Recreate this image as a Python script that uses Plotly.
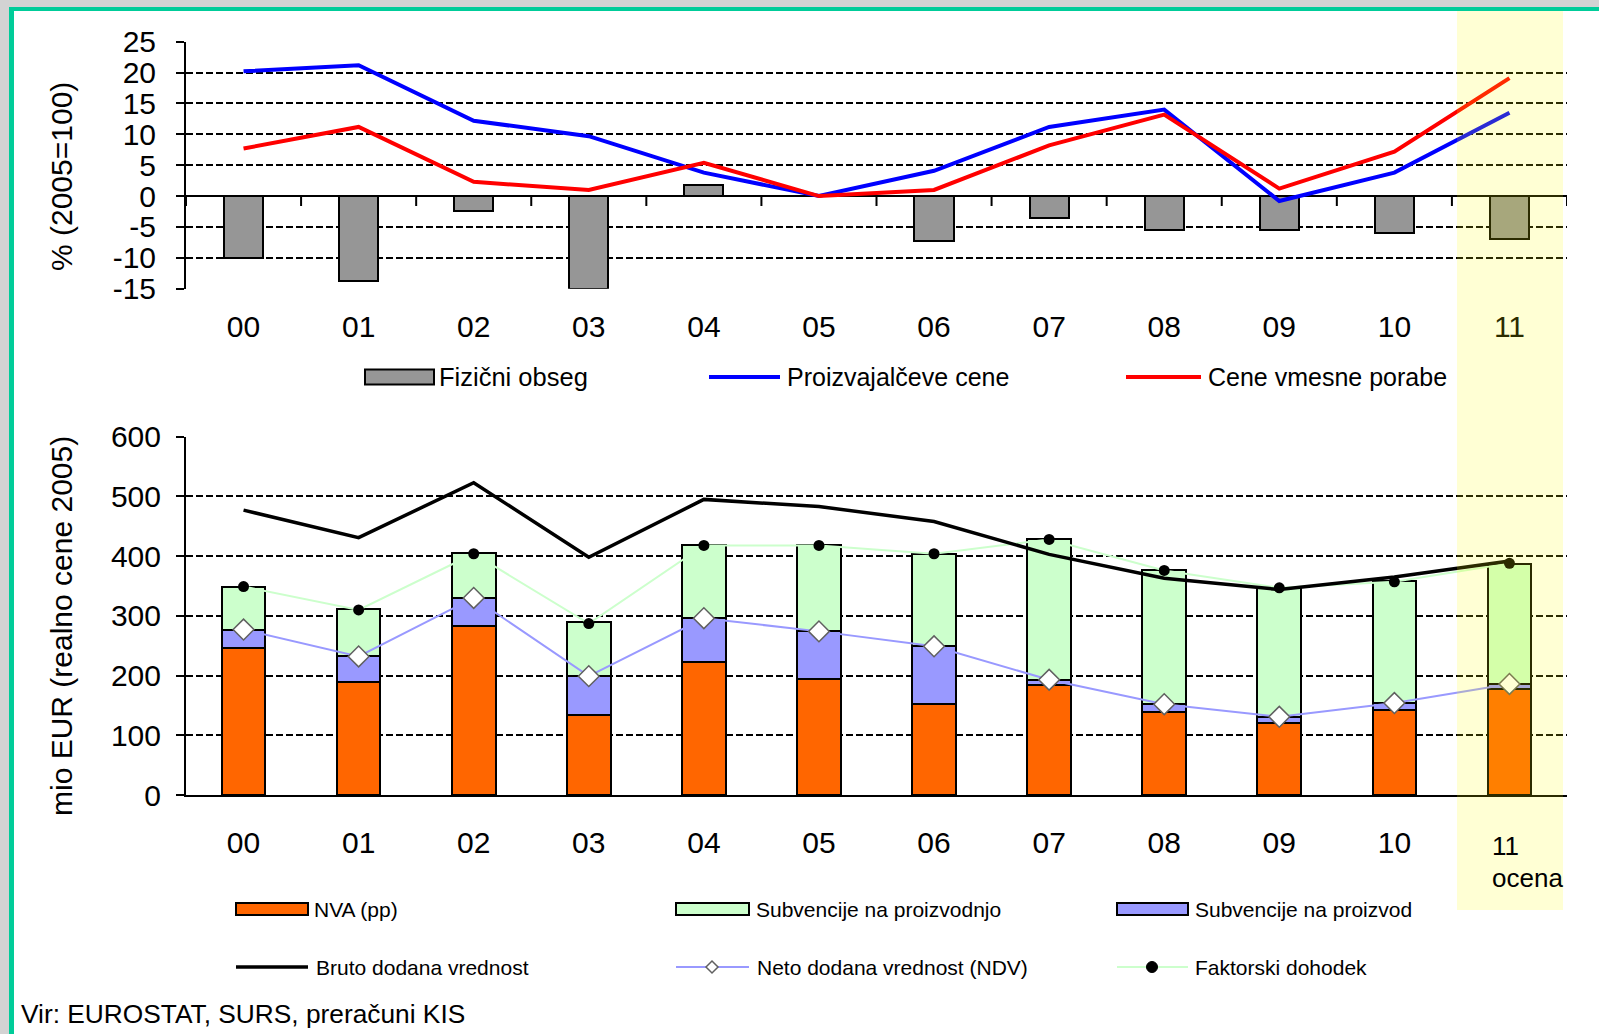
import plotly.graph_objects as go

W, H = 1599, 1034

# ---------------- data ----------------
years = ["00", "01", "02", "03", "04", "05", "06", "07", "08", "09", "10", "11"]

# top chart (% , 2005=100)
fizicni_obseg = [-10.0, -13.7, -2.4, -15.0, 1.8, 0.0, -7.3, -3.6, -5.5, -5.5, -6.0, -6.9]
proizvajalceve_cene = [20.2, 21.2, 12.2, 9.7, 3.8, 0.0, 4.1, 11.2, 14.0, -0.8, 3.8, 13.5]
cene_vmesne_porabe = [7.7, 11.2, 2.3, 1.0, 5.4, 0.0, 1.0, 8.2, 13.2, 1.2, 7.2, 19.1]

# bottom chart (mio EUR, realne cene 2005)
nva = [246, 190, 283, 134, 223, 194, 152, 184, 139, 121, 143, 177]
subv_proizvod = [31, 42, 47, 65, 73, 80, 97, 9, 13, 10, 11, 9]
subv_proizvodnjo = [71, 79, 75, 90, 123, 145, 155, 235, 225, 215, 204, 201]
bdv = [477, 431, 523, 398, 495, 483, 458, 403, 363, 344, 365, 392]
ndv = [277, 232, 330, 199, 296, 274, 249, 193, 152, 131, 154, 186]
faktorski = [349, 310, 404, 287, 418, 418, 404, 428, 376, 347, 357, 388]

top_ticks = [-15, -10, -5, 0, 5, 10, 15, 20, 25]
top_ticktext = ["-15", "-10", "-5", "0", "5", "10", "15", "20", "25"]
bottom_ticks = [0, 100, 200, 300, 400, 500, 600]
bottom_ticktext = ["00", "01", "02", "03", "04", "05", "06", "07", "08", "09", "10", ""]

# ---------------- styling ----------------
FONT = "Liberation Sans, Arial, sans-serif"
GRAY = "#969696"
ORANGE = "#FF6600"
LGREEN = "#CCFFCC"
LPURPLE = "#9999FF"


def px(x):
    return x / W


def py(y):
    return 1 - y / H


fig = go.Figure()

# top chart
fig.add_trace(go.Bar(x=years, y=fizicni_obseg, name="Fizični obseg", width=0.34,
                     marker=dict(color=GRAY, line=dict(color="black", width=2)),
                     xaxis="x", yaxis="y", showlegend=False))
fig.add_trace(go.Scatter(x=years, y=proizvajalceve_cene, name="Proizvajalčeve cene", mode="lines",
                         line=dict(color="#0000FF", width=4), xaxis="x", yaxis="y", showlegend=False))
fig.add_trace(go.Scatter(x=years, y=cene_vmesne_porabe, name="Cene vmesne porabe", mode="lines",
                         line=dict(color="#FF0000", width=4), xaxis="x", yaxis="y", showlegend=False))

# bottom chart
fig.add_trace(go.Bar(x=years, y=nva, name="NVA (pp)", width=0.38,
                     marker=dict(color=ORANGE, line=dict(color="black", width=2)),
                     xaxis="x2", yaxis="y2", showlegend=False))
fig.add_trace(go.Bar(x=years, y=subv_proizvod, name="Subvencije na proizvod", width=0.38,
                     marker=dict(color=LPURPLE, line=dict(color="black", width=2)),
                     xaxis="x2", yaxis="y2", showlegend=False))
fig.add_trace(go.Bar(x=years, y=subv_proizvodnjo, name="Subvencije na proizvodnjo", width=0.38,
                     marker=dict(color=LGREEN, line=dict(color="black", width=2)),
                     xaxis="x2", yaxis="y2", showlegend=False))
fig.add_trace(go.Scatter(x=years, y=faktorski, name="Faktorski dohodek", mode="lines+markers",
                         line=dict(color=LGREEN, width=2),
                         marker=dict(color="black", size=11, symbol="circle"),
                         xaxis="x2", yaxis="y2", showlegend=False))
fig.add_trace(go.Scatter(x=years, y=bdv, name="Bruto dodana vrednost", mode="lines",
                         line=dict(color="black", width=3.5), xaxis="x2", yaxis="y2", showlegend=False))
fig.add_trace(go.Scatter(x=years, y=ndv, name="Neto dodana vrednost (NDV)", mode="lines+markers",
                         line=dict(color=LPURPLE, width=2),
                         marker=dict(color="white", size=16, symbol="diamond",
                                     line=dict(color="#606060", width=1.5)),
                         xaxis="x2", yaxis="y2", showlegend=False))

XDOM = [px(186), px(1567)]
axis_common = dict(tickfont=dict(family=FONT, size=30, color="black"), automargin=False)
grid_common = dict(showgrid=True, gridcolor="black", gridwidth=2, griddash="7px,3px")

fig.update_layout(
    width=W, height=H, autosize=False,
    margin=dict(l=0, r=0, t=0, b=0, pad=0),
    paper_bgcolor="white", plot_bgcolor="rgba(0,0,0,0)",
    barmode="stack", font=dict(family=FONT, color="black"),
    showlegend=False,
    xaxis=dict(domain=XDOM, anchor="y", type="category", range=[-0.5, 11.5],
               showgrid=False, showline=False, ticks="", zeroline=False,
               ticklabelstandoff=17, **axis_common),
    yaxis=dict(domain=[py(288.7), py(41.7)], anchor="x", range=[-15, 25],
               tickvals=top_ticks, ticktext=top_ticktext, **grid_common,
               zeroline=True, zerolinecolor="black", zerolinewidth=2,
               showline=True, linecolor="black", linewidth=2,
               ticks="outside", ticklen=8, tickwidth=2, tickcolor="black",
               ticklabelstandoff=14, **axis_common),
    xaxis2=dict(domain=XDOM, anchor="y2", type="category", range=[-0.5, 11.5],
                tickvals=years, ticktext=bottom_ticktext,
                showgrid=False, showline=True, linecolor="black", linewidth=2, ticks="",
                zeroline=False, ticklabelstandoff=20, **axis_common),
    yaxis2=dict(domain=[py(795), py(436.7)], anchor="x2", range=[0, 600], tickvals=bottom_ticks,
                **grid_common, zeroline=False, showline=True, linecolor="black", linewidth=2,
                ticks="outside", ticklen=8, tickwidth=2, tickcolor="black",
                ticklabelstandoff=9, **axis_common),
)

shapes = []
# frame (gray outside strip + green border)
shapes.append(dict(type="rect", xref="paper", yref="paper", x0=0, x1=1, y0=py(7), y1=1,
                   fillcolor="#D3D3D3", line=dict(width=0), layer="above"))
shapes.append(dict(type="rect", xref="paper", yref="paper", x0=0, x1=px(9), y0=0, y1=1,
                   fillcolor="#D3D3D3", line=dict(width=0), layer="above"))
shapes.append(dict(type="rect", xref="paper", yref="paper", x0=px(9), x1=1, y0=py(11), y1=py(7),
                   fillcolor="#00CC99", line=dict(width=0), layer="above"))
shapes.append(dict(type="rect", xref="paper", yref="paper", x0=px(9), x1=px(14), y0=0, y1=py(7),
                   fillcolor="#00CC99", line=dict(width=0), layer="above"))

# tick marks at category boundaries on the zero lines
for k in range(13):
    shapes.append(dict(type="line", xref="x", yref="y", ysizemode="pixel", yanchor=0,
                       x0=k - 0.5, x1=k - 0.5, y0=0, y1=-10,
                       line=dict(color="black", width=2), layer="above"))
    shapes.append(dict(type="line", xref="x2", yref="y2", ysizemode="pixel", yanchor=0,
                       x0=k - 0.5, x1=k - 0.5, y0=0, y1=-10,
                       line=dict(color="black", width=2), layer="above"))

# estimate highlight band (2011)
shapes.append(dict(type="rect", xref="paper", yref="paper", x0=px(1457), x1=px(1563),
                   y0=py(910), y1=py(11), fillcolor="rgba(255,255,0,0.17)",
                   line=dict(width=0), layer="above"))

# ---- manual legends ----
def rect_sym(x0, x1, yc, color, h=14):
    return dict(type="rect", xref="paper", yref="paper", x0=px(x0), x1=px(x1),
                y0=py(yc + h / 2), y1=py(yc - h / 2), fillcolor=color,
                line=dict(color="black", width=2), layer="above")


def line_sym(x0, x1, yc, color, w):
    return dict(type="line", xref="paper", yref="paper", x0=px(x0), x1=px(x1),
                y0=py(yc), y1=py(yc), line=dict(color=color, width=w), layer="above")


shapes.append(rect_sym(365, 434, 377, GRAY, 15))
shapes.append(line_sym(709, 780, 377, "#0000FF", 4))
shapes.append(line_sym(1126, 1201, 377, "#FF0000", 4))

shapes.append(rect_sym(236, 308, 909, ORANGE, 12))
shapes.append(rect_sym(676, 749, 909, LGREEN, 12))
shapes.append(rect_sym(1117, 1188, 909, LPURPLE, 12))
shapes.append(line_sym(236, 308, 967, "black", 3.5))
shapes.append(line_sym(676, 749, 967, LPURPLE, 2))
shapes.append(line_sym(1117, 1188, 967, LGREEN, 2))
# diamond marker for NDV legend
dx, dy, r = 712, 967, 6
shapes.append(dict(type="path", xref="paper", yref="paper",
                   path=f"M {px(dx - r)} {py(dy)} L {px(dx)} {py(dy - r)} L {px(dx + r)} {py(dy)} L {px(dx)} {py(dy + r)} Z",
                   fillcolor="white", line=dict(color="#606060", width=1.5), layer="above"))
# dot for factor income legend
cx, cy, cr = 1152, 967, 5.5
shapes.append(dict(type="circle", xref="paper", yref="paper",
                   x0=px(cx - cr), x1=px(cx + cr), y0=py(cy + cr), y1=py(cy - cr),
                   fillcolor="black", line=dict(color="black", width=1), layer="above"))

fig.update_layout(shapes=shapes)

ann = []


def label(text, x, y, size, xanchor="left", yanchor="middle", angle=0, align="left"):
    ann.append(dict(text=text, xref="paper", yref="paper", x=px(x), y=py(y), showarrow=False,
                    xanchor=xanchor, yanchor=yanchor, textangle=angle, align=align,
                    font=dict(family=FONT, size=size, color="black")))


label("Fizični obseg", 437, 377, 25.5)
label("Proizvajalčeve cene", 785, 377, 25)
label("Cene vmesne porabe", 1206, 377, 25)

label("NVA (pp)", 312, 909, 21)
label("Subvencije na proizvodnjo", 754, 909, 21)
label("Subvencije na proizvod", 1193, 909, 21)
label("Bruto dodana vrednost", 314, 967, 21)
label("Neto dodana vrednost (NDV)", 755, 967, 21)
label("Faktorski dohodek", 1193, 967, 21)

label("% (2005=100)", 61, 177, 30, xanchor="center", angle=-90)
label("mio EUR (realno cene 2005)", 61, 626, 30, xanchor="center", angle=-90)

label("11", 1490, 846, 26)
label("ocena", 1490, 878, 26)
label("Vir: EUROSTAT, SURS, preračuni KIS", 19, 1014, 26.3)

fig.update_layout(annotations=ann)

fig.write_html("out.html", config={"displayModeBar": False},
               post_script="document.body.style.margin='0';document.body.style.overflow='hidden';")
